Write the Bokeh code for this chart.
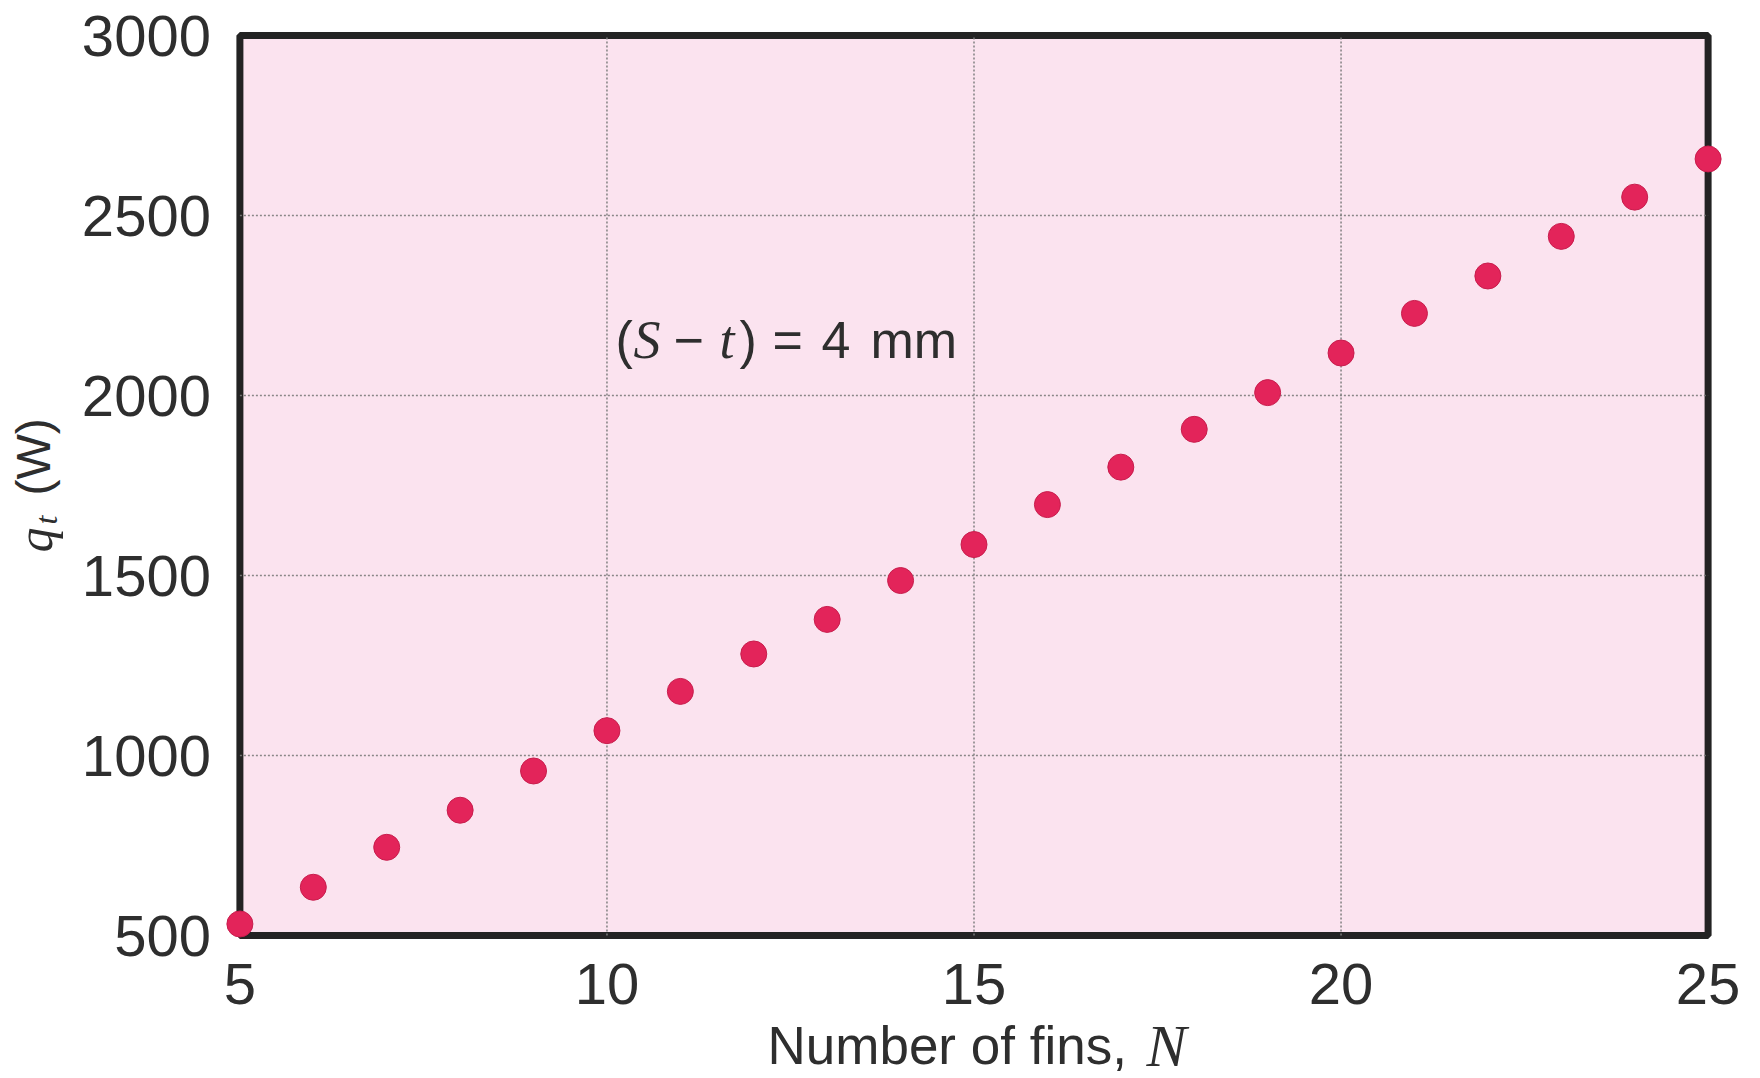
import math
from bokeh.plotting import figure
from bokeh.models import BoxAnnotation, Label, Range1d
from bokeh.embed import file_html
from bokeh.resources import INLINE

# ---- data ----
N_FINS = [5, 6, 7, 8, 9, 10, 11, 12, 13, 14, 15, 16, 17, 18, 19, 20, 21, 22, 23, 24, 25]
Q_T = [532, 634, 745, 848, 957, 1069, 1178, 1282, 1378, 1486, 1586, 1697, 1801,
       1906, 2008, 2118, 2228, 2332, 2442, 2551, 2657]
X_TICKS = [5, 10, 15, 20, 25]
Y_TICKS = [500, 1000, 1500, 2000, 2500, 3000]
X_TICK_LABELS = [str(v) for v in X_TICKS]
Y_TICK_LABELS = [str(v) for v in Y_TICKS]

# ---- geometry: the plotting frame covers the whole canvas ----
W, H = 1760, 1078
PX_L, PX_R, PX_T, PX_B = 239.4, 1707.6, 35.0, 935.0   # pixel position of the data box
XS = (PX_R - PX_L) / (X_TICKS[-1] - X_TICKS[0])
YS = (PX_B - PX_T) / (Y_TICKS[-1] - Y_TICKS[0])
X0 = X_TICKS[0] - PX_L / XS
X1 = X_TICKS[-1] + (W - PX_R) / XS
Y0 = Y_TICKS[0] - (H - PX_B) / YS
Y1 = Y_TICKS[-1] + PX_T / YS


def dx(cx):
    return X0 + cx / XS


def dy(cy):
    return Y0 + (H - cy) / YS


PINK = "#fbe3ef"
DOT = "#e3245a"
INK = "#2e2e2e"
SANS = "Liberation Sans"
SERIF = "Liberation Serif"
BL_FIX = 15  # baseline correction (px)

p = figure(width=W, height=H, output_backend="svg", toolbar_location=None,
           x_range=Range1d(X0, X1), y_range=Range1d(Y0, Y1),
           x_axis_location=None, y_axis_location=None, title=None,
           min_border=0, min_border_left=0, min_border_right=0,
           min_border_top=0, min_border_bottom=0)
p.outline_line_color = None
p.background_fill_color = "white"
p.border_fill_color = "white"
p.grid.visible = False

# plot area background and frame
p.add_layout(BoxAnnotation(left=X_TICKS[0], right=X_TICKS[-1], bottom=Y_TICKS[0], top=Y_TICKS[-1],
                           fill_color=PINK, fill_alpha=1, line_color=None, level="image"))
p.add_layout(BoxAnnotation(left=X_TICKS[0], right=X_TICKS[-1], bottom=Y_TICKS[0], top=Y_TICKS[-1],
                           fill_alpha=0, line_color="#232323", line_alpha=1, line_width=7,
                           level="underlay"))

# dotted grid lines inside the frame
gx = X_TICKS[1:-1]
gy = Y_TICKS[1:-1]
p.segment(x0=gx, x1=gx, y0=[Y_TICKS[0]] * len(gx), y1=[Y_TICKS[-1]] * len(gx),
          line_color="#7c7c7c", line_width=1.6, line_dash="2 2", line_alpha=0.9)
p.segment(x0=[X_TICKS[0]] * len(gy), x1=[X_TICKS[-1]] * len(gy), y0=gy, y1=gy,
          line_color="#7c7c7c", line_width=1.6, line_dash="2 2", line_alpha=0.9)

# data points
p.scatter(N_FINS, Q_T, size=26, fill_color=DOT, line_color="#c81d4d", line_width=1)

# tick labels
p.text(x=X_TICKS, y=[Y_TICKS[0]] * len(X_TICKS), text=X_TICK_LABELS,
       y_offset=48, text_align="center", text_baseline="middle",
       text_font={"value": SANS}, text_font_size="58px", text_color=INK)
p.text(x=[X_TICKS[0]] * len(Y_TICKS), y=Y_TICKS, text=Y_TICK_LABELS,
       x_offset=-29, text_align="right", text_baseline="middle",
       text_font={"value": SANS}, text_font_size="58px", text_color=INK)


def lab(text, cx, cy, size, font=SANS, style="normal", angle=0.0):
    if angle == 0.0:
        cy = cy - BL_FIX
    else:
        cx = cx - BL_FIX
    p.add_layout(Label(x=dx(cx), y=dy(cy), text=text, text_font=font,
                       text_font_style=style, text_font_size=f"{size}px",
                       text_color=INK, text_align="left", text_baseline="alphabetic",
                       angle=angle))


# annotation "(S − t) = 4 mm"
AB = 354
lab("(", 615, AB, 52)
lab("S", 633, AB, 54, SERIF, "italic")
lab("\u2212", 673, AB, 52)
lab("t", 719, AB, 54, SERIF, "italic")
lab(")", 739, AB, 52)
lab("=", 772, AB, 52)
lab("4", 821, AB, 52)
lab("mm", 870, AB, 52)

# x axis label "Number of fins, N"
XB = 1060
lab("Number of fins,", 767, XB, 53)
lab("N", 1146, XB, 60, SERIF, "italic")

# y axis label "q_t (W)"
lab("q", 49, 552, 50, SERIF, "italic", math.pi / 2)
lab("t", 60, 524, 32, SERIF, "italic", math.pi / 2)
lab("(W)", 48, 495, 48, SANS, "normal", math.pi / 2)

open("out.html", "w").write(file_html(p, INLINE))
